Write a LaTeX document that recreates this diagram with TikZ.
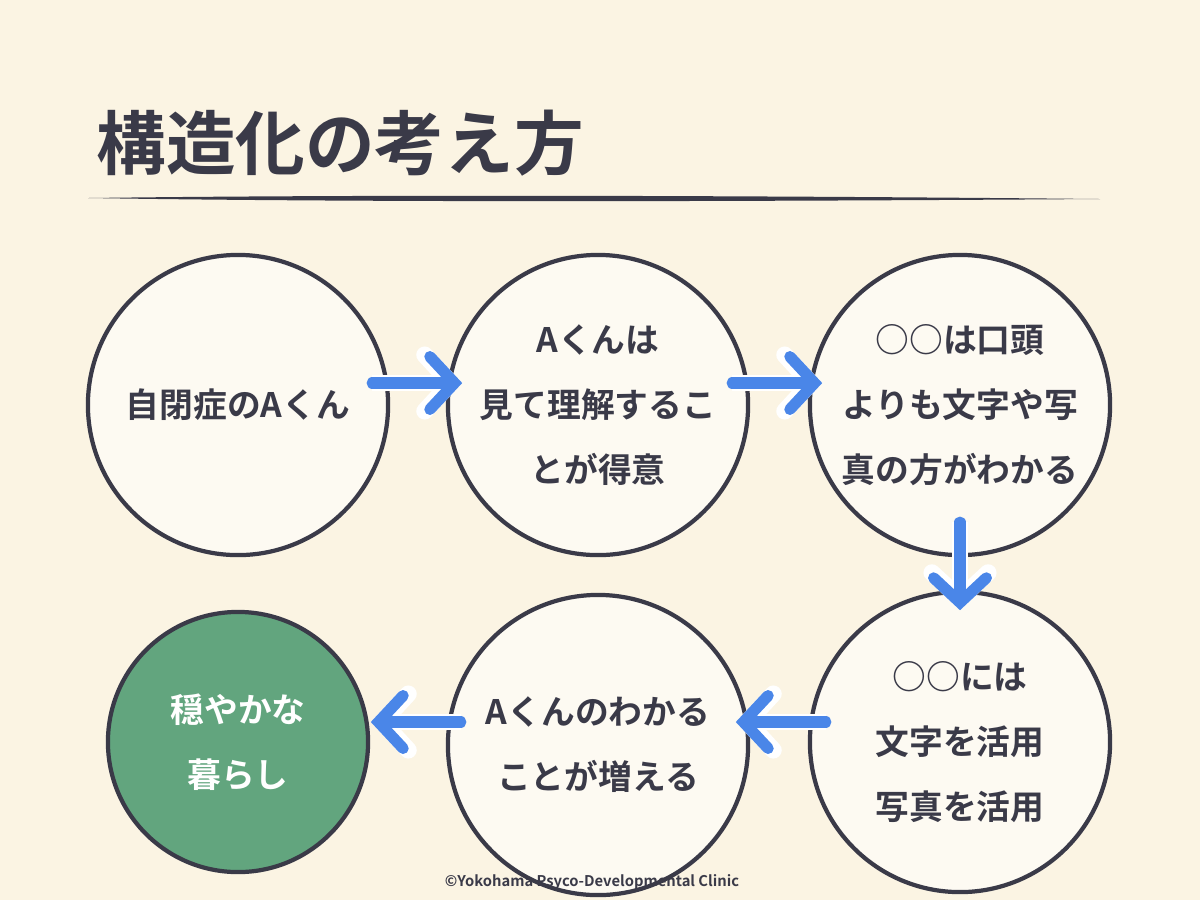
\documentclass[tikz,border=0pt]{standalone}
\usepackage{fontspec}
\setmainfont{Noto Sans CJK JP}[BoldFont={* Bold}]
\usetikzlibrary{arrows.meta}
\definecolor{bgcream}{HTML}{FBF4E3}
\definecolor{inkdark}{HTML}{3A3A48}
\definecolor{flowblue}{HTML}{4A86E8}
\definecolor{calmgreen}{HTML}{62A57E}

\begin{document}
\begin{tikzpicture}[
		x=0.01cm, y=-0.01cm,
		stage/.style={circle, draw=inkdark, line width=1.2pt, fill=white!55!bgcream, minimum size=3cm, inner sep=0pt, align=center, font=\bfseries\fontsize{9.6}{18.5}\selectfont, text=inkdark},
		goal/.style={stage, fill=calmgreen, minimum size=2.6cm, text=white},
		flow/.style={draw=flowblue, line width=3.2pt, line cap=round, -{Straight Barb[length=7pt, width=15pt, line cap=round]}, preaction={draw=white, line width=4.8pt, -{Straight Barb[length=7.4pt, width=16pt, line cap=round]}}}
	]
  \fill[bgcream] (0,0) rectangle (1200,900);
  % title
  \node (title) [anchor=west, text=inkdark, font=\bfseries\fontsize{19.8}{22}\selectfont] at (84,143) {構造化の考え方};
  \fill[inkdark] (88,198) .. controls (400,194) and (800,196) .. (1100,199) .. controls (800,201) and (400,203) .. (88,198) -- cycle;
  % circles
  \node (s1) [stage] at (238,405) {自閉症のAくん};
  \node (s2) [stage] at (598,405) {Aくんは\\見て理解するこ\\とが得意};
  \node (s3) [stage] at (960,405) {○○は口頭\\よりも文字や写\\真の方がわかる};
  \node (s4) [stage] at (960,742) {○○には\\文字を活用\\写真を活用};
  \node (s5) [stage] at (598,745) {Aくんのわかる\\ことが増える};
  \node (s6) [goal] at (238,742) {穏やかな\\暮らし};
  % arrows
  \draw[flow] (s1.east |- 0,383) ++(-18,0) -- ++(90,0);
  \draw[flow] (s2.east |- 0,383) ++(-18,0) -- ++(90,0);
  \draw[flow] (s3.south) ++(0,-35) -- ++(0,88);
  \draw[flow] (s4.west |- 0,722) ++(18,0) -- ++(-90,0);
  \draw[flow] (s5.west |- 0,722) ++(15,0) -- ++(-90,0);
  % footer
  \node (credit) [text=inkdark, font=\bfseries\fontsize{4.2}{5}\selectfont] at (592,882) {©Yokohama Psyco-Developmental Clinic};
\end{tikzpicture}
\end{document}
